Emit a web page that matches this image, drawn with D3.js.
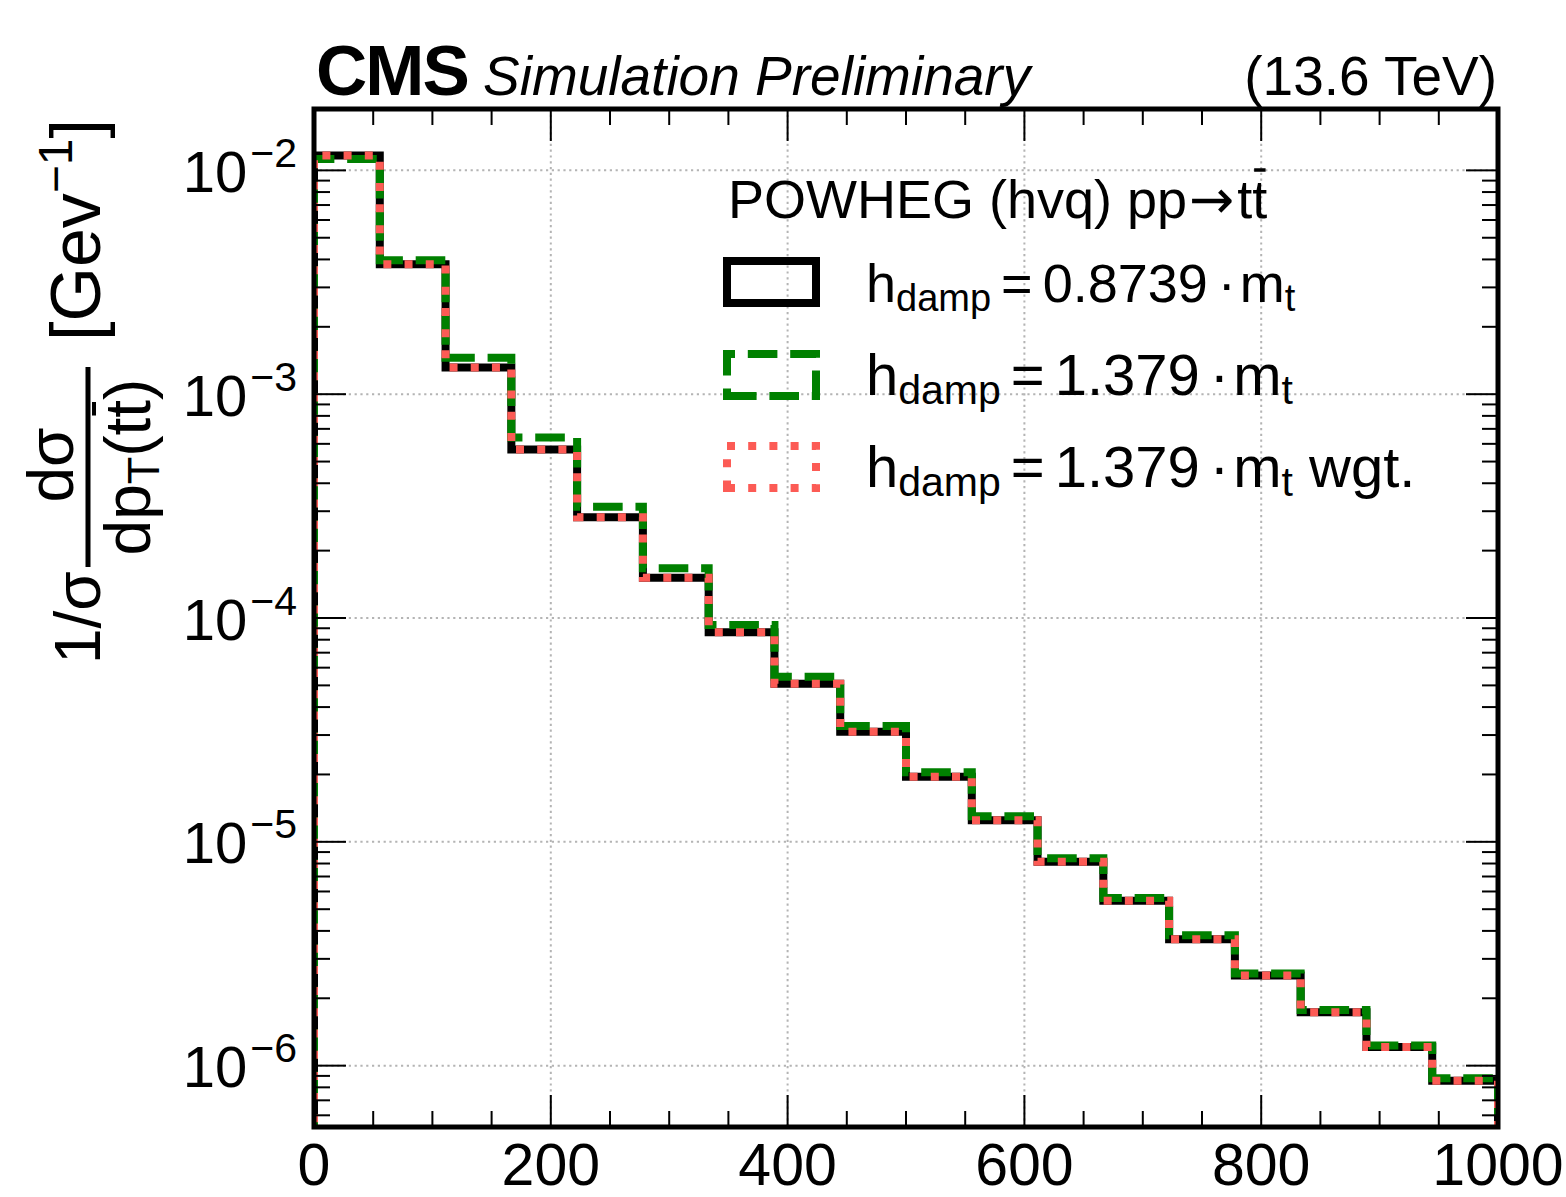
<html>
<head>
<style>
    body { margin: 0; background: white; }
    text { font-family: "Liberation Sans", Arial, Helvetica, sans-serif; fill: black; }
</style>
</head>
<body>
<svg id="container" width="1566" height="1197"></svg>
<script src="https://d3js.org/d3.v7.min.js" charset="utf-8"></script>
<script>
    // pT(ttbar) bins, GeV
    let binEdges = [0, 55.56, 111.11, 166.67, 222.22, 277.78, 333.33, 388.89, 444.44, 500,
                    555.56, 611.11, 666.67, 722.22, 777.78, 833.33, 888.89, 944.44, 1000]

    // normalised 1/sigma dsigma/dpT, GeV^-1
    let hdamp08739 = [1.165e-2, 3.81e-3, 1.315e-3, 5.66e-4, 2.82e-4, 1.512e-4, 8.63e-5, 5.09e-5, 3.10e-5,
                      1.954e-5, 1.248e-5, 8.15e-6, 5.46e-6, 3.67e-6, 2.53e-6, 1.734e-6, 1.21e-6, 8.56e-7]
    let hdamp1379 = [1.123e-2, 3.97e-3, 1.453e-3, 6.41e-4, 3.14e-4, 1.667e-4, 9.31e-5, 5.46e-5, 3.29e-5,
                     2.046e-5, 1.301e-5, 8.44e-6, 5.61e-6, 3.82e-6, 2.58e-6, 1.774e-6, 1.23e-6, 8.79e-7]
    let hdamp1379wgt = [1.165e-2, 3.81e-3, 1.315e-3, 5.66e-4, 2.82e-4, 1.512e-4, 8.63e-5, 5.09e-5, 3.10e-5,
                        1.954e-5, 1.248e-5, 8.15e-6, 5.46e-6, 3.67e-6, 2.53e-6, 1.734e-6, 1.21e-6, 8.56e-7]

    let seriesNames = ["0.8739", "1.379", "1.379"]
    let seriesSuffix = ["", "", " wgt."]
    let xTicks = [0, 200, 400, 600, 800, 1000]
    let yExponents = [-2, -3, -4, -5, -6]

    let svg = d3.select("#container")
    let pLeft = 314, pRight = 1498, pTop = 109, pBottom = 1127

    let x = d3.scaleLinear().domain([0, 1000]).range([pLeft, pRight])
    let y = d3.scaleLog().domain([5.32e-7, 1.88e-2]).range([pBottom, pTop])

    svg.append("clipPath").attr("id", "plotclip")
        .append("rect")
        .attr("x", pLeft).attr("y", pTop)
        .attr("width", pRight - pLeft).attr("height", pBottom - pTop)

    // grid
    let grid = svg.append("g")
    grid.selectAll(".gx")
        .data(xTicks.slice(1, -1))
        .enter().append("line")
        .attr("x1", d => x(d)).attr("x2", d => x(d))
        .attr("y1", pTop).attr("y2", pBottom)
    grid.selectAll(".gy")
        .data(yExponents)
        .enter().append("line")
        .attr("x1", pLeft).attr("x2", pRight)
        .attr("y1", d => y(Math.pow(10, d))).attr("y2", d => y(Math.pow(10, d)))
    grid.selectAll("line")
        .attr("stroke", "#b4b4b4")
        .attr("stroke-width", 2)
        .attr("stroke-dasharray", "2.2,3.6")

    // histograms
    let series = [
        { values: hdamp08739, color: "black", dash: null },
        { values: hdamp1379, color: "#008000", dash: "29.6,12.8" },
        { values: hdamp1379wgt, color: "#fc5b55", dash: "8,13.2" }
    ]

    function stepPoints(values) {
        let pts = [[binEdges[0], 1e-9]]
        values.forEach((v, i) => {
            pts.push([binEdges[i], v])
            pts.push([binEdges[i + 1], v])
        })
        pts.push([binEdges[binEdges.length - 1], 1e-9])
        return pts
    }

    let line = d3.line().x(d => x(d[0])).y(d => y(d[1]))

    let hist = svg.append("g").attr("clip-path", "url(#plotclip)")
    hist.selectAll("path")
        .data(series)
        .enter().append("path")
        .attr("d", d => line(stepPoints(d.values)))
        .attr("fill", "none")
        .attr("stroke", d => d.color)
        .attr("stroke-width", 8)
        .attr("stroke-linejoin", "miter")
        .attr("stroke-dasharray", d => d.dash)

    // ticks (inward, all four sides)
    let xMinor = d3.range(0, 1001, 50).filter(d => d % 200 != 0)
    let yMinor = []
    for (let e = -7; e <= -2; e++) {
        for (let k = 2; k <= 9; k++) {
            let v = k * Math.pow(10, e)
            if (v > y.domain()[0] && v < y.domain()[1]) yMinor.push(v)
        }
    }
    let yMajor = yExponents.map(e => Math.pow(10, e))

    let ticks = svg.append("g").attr("stroke", "black").attr("stroke-width", 2)
    function hTicks(vals, len) {
        vals.forEach(v => {
            ticks.append("line").attr("x1", x(v)).attr("x2", x(v)).attr("y1", pBottom).attr("y2", pBottom - len)
            ticks.append("line").attr("x1", x(v)).attr("x2", x(v)).attr("y1", pTop).attr("y2", pTop + len)
        })
    }
    function vTicks(vals, len) {
        vals.forEach(v => {
            ticks.append("line").attr("y1", y(v)).attr("y2", y(v)).attr("x1", pLeft).attr("x2", pLeft + len)
            ticks.append("line").attr("y1", y(v)).attr("y2", y(v)).attr("x1", pRight).attr("x2", pRight - len)
        })
    }
    hTicks(xTicks, 32)
    hTicks(xMinor, 16)
    vTicks(yMajor, 32)
    vTicks(yMinor, 16)

    // frame
    svg.append("rect")
        .attr("x", pLeft).attr("y", pTop)
        .attr("width", pRight - pLeft).attr("height", pBottom - pTop)
        .attr("fill", "none")
        .attr("stroke", "black")
        .attr("stroke-width", 5)

    // tick labels
    svg.selectAll(".xlab")
        .data(xTicks)
        .enter().append("text")
        .attr("x", d => x(d))
        .attr("y", 1185)
        .attr("text-anchor", "middle")
        .style("font-size", "59px")
        .text(d => d)

    let ylab = svg.selectAll(".ylab")
        .data(yExponents)
        .enter().append("text")
        .attr("x", 297)
        .attr("y", d => y(Math.pow(10, d)) + 21.5)
        .attr("text-anchor", "end")
        .style("font-size", "58px")
    ylab.append("tspan").text("10")
    ylab.append("tspan")
        .attr("dy", -25)
        .attr("dx", 3)
        .style("font-size", "41px")
        .text(d => "\u2212" + Math.abs(d))

    // bar over a character of a text element
    function barOver(textSel, index, lift, w) {
        let node = textSel.node()
        let ext = node.getExtentOfChar(index)
        let parent = d3.select(node.parentNode)
        let bl = +textSel.attr("y") || 0
        parent.append("line")
            .attr("x1", ext.x + ext.width * 0.12).attr("x2", ext.x + ext.width * 0.88)
            .attr("y1", bl - lift).attr("y2", bl - lift)
            .attr("stroke", "black").attr("stroke-width", w)
    }

    // y axis title, rotated
    let yt = svg.append("g").attr("transform", "rotate(-90)")
    yt.append("text")
        .attr("x", -664).attr("y", 100)
        .style("font-size", "64px")
        .text("1/σ")
    yt.append("line")
        .attr("x1", -567).attr("x2", -367)
        .attr("y1", 88).attr("y2", 88)
        .attr("stroke", "black").attr("stroke-width", 5)
    yt.append("text")
        .attr("x", -465).attr("y", 73)
        .attr("text-anchor", "middle")
        .style("font-size", "64px")
        .text("dσ")
    let den = yt.append("text")
        .attr("x", -467).attr("y", 150)
        .attr("text-anchor", "middle")
        .style("font-size", "64px")
    den.append("tspan").text("dp")
    den.append("tspan").attr("dy", 9).style("font-size", "45px").text("T")
    den.append("tspan").attr("dy", -9).text("(tt)")
    barOver(den, 5, 56, 4)

    let unit = yt.append("text")
        .attr("x", -341).attr("y", 100)
        .style("font-size", "70px")
    unit.append("tspan").text("[Gev")
    unit.append("tspan").attr("dy", -28).style("font-size", "48px").text("\u22121")
    unit.append("tspan").attr("dy", 28).text("]")

    // header
    svg.append("text")
        .attr("x", 316).attr("y", 95)
        .style("font-size", "71px")
        .style("font-weight", "bold")
        .attr("letter-spacing", -2)
        .text("CMS")
    svg.append("text")
        .attr("x", 483).attr("y", 95)
        .style("font-size", "55px")
        .style("font-style", "italic")
        .text("Simulation Preliminary")
    svg.append("text")
        .attr("x", 1497).attr("y", 95)
        .attr("text-anchor", "end")
        .style("font-size", "55px")
        .text("(13.6 TeV)")

    // legend
    let legend = svg.append("g")
    let title = legend.append("text")
        .attr("x", 728).attr("y", 218)
        .style("font-size", "54px")
    title.append("tspan").text("POWHEG (hvq) pp")
    title.append("tspan").style("font-family", "DejaVu Sans").attr("dx", 2).text("\u2192")
    title.append("tspan").attr("dx", 3).text("tt")
    barOver(title, 17, 48, 3.5)

    let rowY = [282, 375, 467]
    let rowFont = [54, 58, 58]
    function rectPath(x0, y0, x1, y1) {
        return `M${x0},${y1} L${x1},${y1} L${x1},${y0} L${x0},${y0} Z`
    }
    series.forEach((s, i) => {
        legend.append("path")
            .attr("d", rectPath(727, rowY[i] - 21, 816, rowY[i] + 21))
            .attr("fill", "none")
            .attr("stroke", s.color)
            .attr("stroke-width", 8)
            .attr("stroke-dasharray", s.dash)
        let fs = rowFont[i], sub = Math.round(fs * 0.7)
        let t = legend.append("text")
            .attr("x", 866).attr("y", rowY[i] + 20)
            .style("font-size", fs + "px")
        t.append("tspan").text("h")
        t.append("tspan").attr("dy", 9).style("font-size", sub + "px").text("damp")
        t.append("tspan").attr("dy", -9).attr("dx", 10).text("=")
        t.append("tspan").attr("dx", 10).text(seriesNames[i])
        t.append("tspan").attr("dx", 10).text("\u00b7")
        t.append("tspan").attr("dx", 4).text("m")
        t.append("tspan").attr("dy", 9).style("font-size", sub + "px").text("t")
        t.append("tspan").attr("dy", -9).text(seriesSuffix[i])
    })
</script>
</body>
</html>
